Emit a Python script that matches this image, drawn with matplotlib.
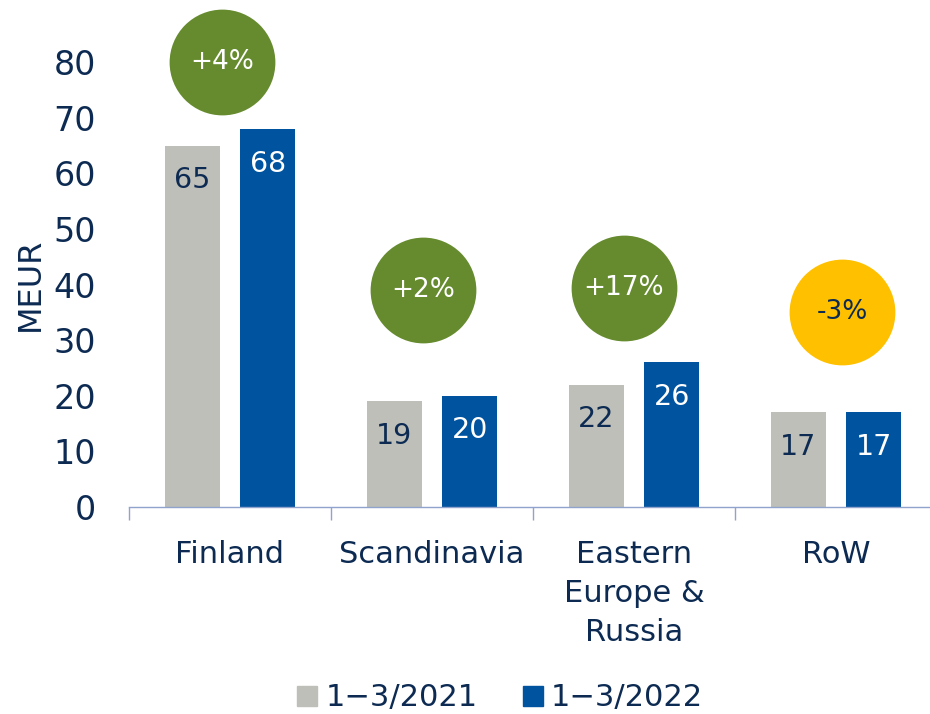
import matplotlib.pyplot as plt
from matplotlib.lines import Line2D
import numpy as np

# data
regions = ['Finland', 'Scandinavia', 'Eastern\nEurope &\nRussia', 'RoW']
q1_2021 = [65, 19, 22, 17]
q1_2022 = [68, 20, 26, 17]
growth = ['+4%', '+2%', '+17%', '-3%']
series_names = ['1\u22123/2021', '1\u22123/2022']

# styles / layout
grey = '#BFBFB9'
blue = '#00539F'
green = '#668B2F'
yellow = '#FFC000'
navy = '#0D2B52'
axis_col = '#8FA3CC'
bubble_y = [80, 39, 39.4, 35]      # where the growth circles sit
bubble_dx = [-0.04, -0.045, -0.05, 0.03]
bubble_col = [green, green, green, yellow]
bubble_txt = ['white', 'white', 'white', navy]

plt.rcParams['font.family'] = ['DejaVu Sans']

fig = plt.figure(figsize=(9.3, 7.14), dpi=100)
ax = fig.add_axes([129 / 930, 207 / 714, 801 / 930, 0.701])

x = np.arange(len(regions))
w = 0.272
off = 0.187
ax.bar(x - off, q1_2021, w, color=grey)
ax.bar(x + off, q1_2022, w, color=blue)

# value labels inside bars, near the top
for xs, vals, col in [(x - off, q1_2021, navy), (x + off, q1_2022, 'white')]:
    for xi, v in zip(xs, vals):
        ax.annotate(str(v), (xi, v), xytext=(0, -25), textcoords='offset points',
                    ha='center', va='center', fontsize=20.5, color=col)

# growth circles
for i in range(len(regions)):
    ax.scatter(x[i] + bubble_dx[i], bubble_y[i], s=5800, color=bubble_col[i],
               zorder=3, clip_on=False, linewidths=0)
    ax.text(x[i] + bubble_dx[i], bubble_y[i], growth[i], ha='center', va='center',
            fontsize=19, color=bubble_txt[i], zorder=4)

ax.set_xlim(-0.5, 3.5 - 7 / 202)
ax.set_ylim(0, 90)

ax.set_yticks(range(0, 90, 10))
ax.tick_params(axis='y', length=0, pad=24, labelsize=24, labelcolor=navy)
ax.set_ylabel('MEUR', fontsize=23, color=navy)
ax.yaxis.set_label_coords(-0.104, 0.445)

ax.set_xticks(x)
ax.set_xticklabels(regions, fontsize=22, color=navy, linespacing=1.42)
ax.tick_params(axis='x', which='major', length=0, pad=24)
ax.set_xticks(np.arange(-0.5, 3.5, 1), minor=True)
ax.tick_params(axis='x', which='minor', length=9, width=1, color=axis_col, direction='out')

for s in ['top', 'right', 'left']:
    ax.spines[s].set_visible(False)
ax.spines['bottom'].set_color(axis_col)
ax.spines['bottom'].set_linewidth(1)

handles = [Line2D([], [], marker='s', linestyle='none', markersize=14, color=grey),
           Line2D([], [], marker='s', linestyle='none', markersize=14, color=blue)]
leg = fig.legend(handles, series_names, loc='lower center', ncol=2, frameon=False,
                 bbox_to_anchor=(0.535, -0.036), fontsize=22, handletextpad=0.1,
                 columnspacing=1.3, handlelength=1.0)
for t in leg.get_texts():
    t.set_color(navy)

fig.savefig('out.png', dpi=100)
